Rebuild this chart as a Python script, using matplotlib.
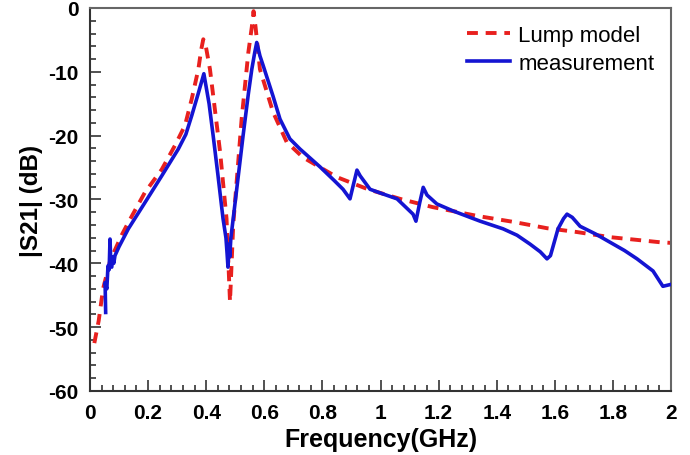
import numpy as np
import matplotlib
matplotlib.use("Agg")
import matplotlib.pyplot as plt
from matplotlib.ticker import MultipleLocator, FormatStrFormatter

plt.rcParams["font.family"] = ["Liberation Sans", "DejaVu Sans"]
plt.rcParams["axes.unicode_minus"] = False

# lump model (red dashed)
lump_f = [0.015, 0.03, 0.045, 0.07, 0.11, 0.132, 0.189, 0.247, 0.293, 0.327,
          0.35, 0.373, 0.383, 0.39, 0.398, 0.413, 0.448, 0.47, 0.482,
          0.493, 0.522, 0.545, 0.557, 0.563, 0.57, 0.585, 0.63, 0.677, 0.733,
          0.85, 0.957, 1.067, 1.18, 1.336, 1.456, 1.573, 1.676, 1.79, 1.962, 2.0]
lump_db = [-52.5, -49, -44, -39.5, -35.5, -33.6, -28.9, -25.3, -21.5, -18.4,
           -14.3, -9.6, -6.5, -4.9, -5.8, -9.6, -22.6, -33, -46,
           -34, -17.4, -7, -3, -0.5, -3, -9.6, -16.3, -21, -23.4,
           -26.5, -28.4, -29.9, -31.2, -32.6, -33.5, -34.5, -35.1, -35.9, -36.7, -36.8]

# measurement (blue solid)
meas_f = [0.054, 0.052, 0.058, 0.062, 0.066, 0.069, 0.072, 0.075, 0.078, 0.082,
          0.086, 0.1, 0.132, 0.189, 0.247, 0.304, 0.33, 0.35, 0.372, 0.392,
          0.41, 0.424, 0.44, 0.458, 0.468, 0.472, 0.475, 0.478, 0.481, 0.485,
          0.493, 0.51, 0.527, 0.545, 0.557, 0.567, 0.574, 0.585, 0.596, 0.63,
          0.654, 0.688, 0.723, 0.792, 0.84, 0.871, 0.895, 0.905, 0.919, 0.93,
          0.964, 1.0, 1.057, 1.112, 1.122, 1.135, 1.147, 1.16, 1.194, 1.25,
          1.308, 1.343, 1.422, 1.47, 1.515, 1.55, 1.573, 1.585, 1.611, 1.63,
          1.642, 1.66, 1.687, 1.74, 1.79, 1.84, 1.883, 1.938, 1.972, 2.0]
meas_db = [-47.7, -43, -44, -40.4, -41, -36.2, -40.5, -40.6, -39, -40,
           -38.8, -37.4, -34.6, -30.5, -26.3, -22.1, -19.8, -16.9, -13.5, -10.3,
           -15, -20, -26, -33, -36, -38.5, -40.6, -37, -39, -36,
           -33, -26.5, -20, -13.5, -9.6, -7, -5.4, -7.5, -9, -13.8,
           -17.4, -20.5, -22.1, -24.9, -27, -28.4, -29.9, -28, -25.4, -26.3,
           -28.4, -29, -29.9, -32.3, -33.4, -30.5, -28.1, -29.3, -30.7, -31.8,
           -32.8, -33.4, -34.6, -35.6, -37, -38.2, -39.3, -38.8, -34.6, -33,
           -32.3, -32.8, -34.2, -35.4, -36.7, -38, -39.3, -41.2, -43.6, -43.3]

fig = plt.figure(figsize=(6.9, 4.56), dpi=100)
ax = fig.add_axes([0.1304, 0.1404, 0.8421, 0.8399])

ax.plot(meas_f, meas_db, color="#1414d2", lw=2.6, label="measurement", zorder=3)
ax.plot(lump_f, lump_db, color="#e8201e", lw=2.8, ls=(0, (2.8, 2)), label="Lump model", zorder=2)

ax.set_xlim(0, 2)
ax.set_ylim(-60, 0)
ax.xaxis.set_major_locator(MultipleLocator(0.2))
ax.xaxis.set_minor_locator(MultipleLocator(0.04))
ax.yaxis.set_major_locator(MultipleLocator(10))
ax.yaxis.set_minor_locator(MultipleLocator(2))
ax.xaxis.set_major_formatter(FormatStrFormatter("%g"))
ax.tick_params(which="both", direction="in", top=False, right=False,
               labelsize=15, width=1.2, color="#333333")
ax.tick_params(which="major", length=8)
ax.tick_params(which="minor", length=4)
ax.tick_params(axis="x", pad=9)
ax.tick_params(axis="y", pad=8)
for lab in ax.get_xticklabels() + ax.get_yticklabels():
    lab.set_fontweight("bold")
for s in ["left", "bottom"]:
    ax.spines[s].set_color("#333333")
    ax.spines[s].set_linewidth(1.5)
for s in ["top", "right"]:
    ax.spines[s].set_color("#666666")
    ax.spines[s].set_linewidth(1.5)

ax.set_xlabel("Frequency(GHz)", fontsize=18, fontweight="bold", labelpad=3)
ax.set_ylabel("|S21| (dB)", fontsize=17.5, fontweight="bold", labelpad=4)

h, l = ax.get_legend_handles_labels()
ax.legend(h[::-1], l[::-1], loc="upper left", bbox_to_anchor=(456 / 690, 1 - 15 / 456),
          bbox_transform=fig.transFigure, frameon=False, fontsize=16,
          handlelength=1.95, handletextpad=0.35, labelspacing=0.3, borderpad=0)

fig.savefig("out.png", dpi=100)
